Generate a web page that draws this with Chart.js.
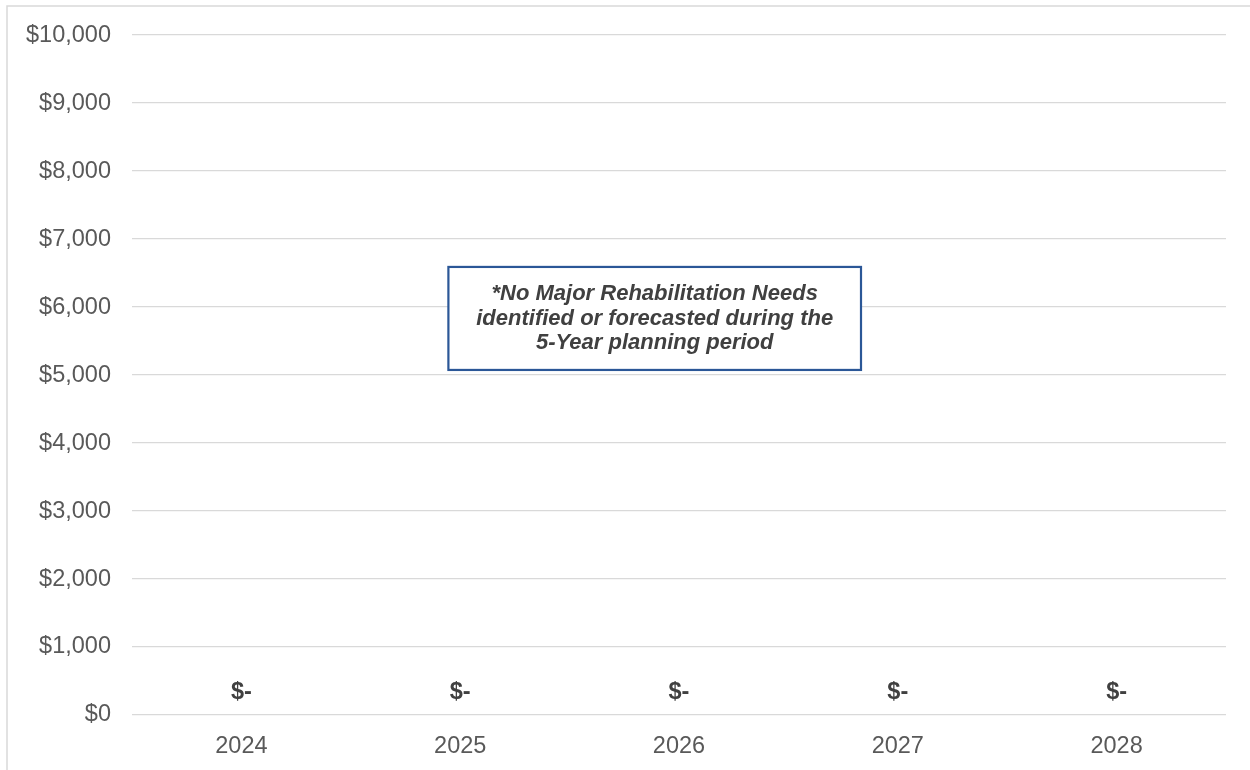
<!DOCTYPE html>
<html>
<head>
<meta charset="utf-8">
<title>Major Rehabilitation Needs 2024–2028</title>
<script src="https://cdn.jsdelivr.net/npm/chart.js@4/dist/chart.umd.min.js"></script>
<style>
  html, body { margin: 0; padding: 0; background: #ffffff; }
  #wrap { width: 1250px; height: 770px; position: relative; }
</style>
</head>
<body>
<div id="wrap"><canvas id="chart" width="1250" height="770"></canvas></div>
<script>
// Planning years and forecast major rehabilitation needs (dollars)
const years = ['2024', '2025', '2026', '2027', '2028'];
const rehabNeeds = [0, 0, 0, 0, 0];

// Value axis
const yMin = 0;
const yMax = 10000;
const yStep = 1000;

// Note shown over the plot
const noteLines = [
  '*No Major Rehabilitation Needs',
  'identified or forecasted during the',
  '5-Year planning period'
];

const FONT = '"Liberation Sans", Arial, Helvetica, sans-serif';

// Accounting-style money format: zero shows as "$-"
function money(v) {
  if (v === 0) return '$-';
  return '$' + v.toLocaleString('en-US');
}

// Light frame round the whole chart
const framePlugin = {
  id: 'frame',
  beforeDraw(chart) {
    const ctx = chart.ctx;
    ctx.save();
    ctx.strokeStyle = '#d9d9d9';
    ctx.lineWidth = 1.5;
    ctx.strokeRect(7, 6, chart.width + 20, chart.height + 20);
    ctx.restore();
  }
};

// Value labels above each bar
const valueLabelPlugin = {
  id: 'valueLabels',
  afterDatasetsDraw(chart) {
    const ctx = chart.ctx;
    const meta = chart.getDatasetMeta(0);
    ctx.save();
    ctx.font = 'bold 23.5px ' + FONT;
    ctx.fillStyle = '#404040';
    ctx.textAlign = 'center';
    ctx.textBaseline = 'middle';
    meta.data.forEach((bar, i) => {
      ctx.fillText(money(chart.data.datasets[0].data[i]), bar.x, bar.y - 22);
    });
    ctx.restore();
  }
};

// Boxed note in the plot area
const notePlugin = {
  id: 'note',
  afterDraw(chart) {
    const ctx = chart.ctx;
    const x = chart.scales.x;
    const y = chart.scales.y;
    const left = x.getPixelForValue(0) + 207;
    const right = x.getPixelForValue(2) + 182;
    const top = y.getPixelForValue(6590);
    const bottom = y.getPixelForValue(5075);
    ctx.save();
    ctx.fillStyle = '#ffffff';
    ctx.fillRect(left, top, right - left, bottom - top);
    ctx.strokeStyle = '#2b5797';
    ctx.lineWidth = 2.2;
    ctx.strokeRect(left, top, right - left, bottom - top);
    ctx.font = 'italic bold 22px ' + FONT;
    ctx.fillStyle = '#404040';
    ctx.textAlign = 'center';
    ctx.textBaseline = 'middle';
    const cx = (left + right) / 2;
    const lineH = 24.5;
    const cy = (top + bottom) / 2 - lineH;
    noteLines.forEach((t, i) => ctx.fillText(t, cx, cy + i * lineH));
    ctx.restore();
  }
};

new Chart(document.getElementById('chart'), {
  type: 'bar',
  data: {
    labels: years,
    datasets: [{
      data: rehabNeeds,
      backgroundColor: '#1f4e79',
      barPercentage: 0.6,
      categoryPercentage: 1
    }]
  },
  options: {
    responsive: false,
    animation: false,
    devicePixelRatio: 1,
    layout: { padding: { left: 0, right: 24, top: 35, bottom: 0 } },
    plugins: {
      legend: { display: false },
      tooltip: { enabled: false }
    },
    scales: {
      x: {
        grid: { display: false, drawTicks: false },
        border: { display: false },
        ticks: {
          color: '#595959',
          font: { family: FONT, size: 23.5 },
          padding: 17
        },
        afterFit(scale) { scale.height = 55; }
      },
      y: {
        min: yMin,
        max: yMax,
        grid: { color: '#d9d9d9', lineWidth: 1.3, drawTicks: false },
        border: { display: false },
        ticks: {
          stepSize: yStep,
          color: '#595959',
          font: { family: FONT, size: 23.5 },
          padding: 21,
          callback: (v) => '$' + Number(v).toLocaleString('en-US')
        },
        afterFit(scale) { scale.width = 132; }
      }
    }
  },
  plugins: [framePlugin, valueLabelPlugin, notePlugin]
});
</script>
</body>
</html>
